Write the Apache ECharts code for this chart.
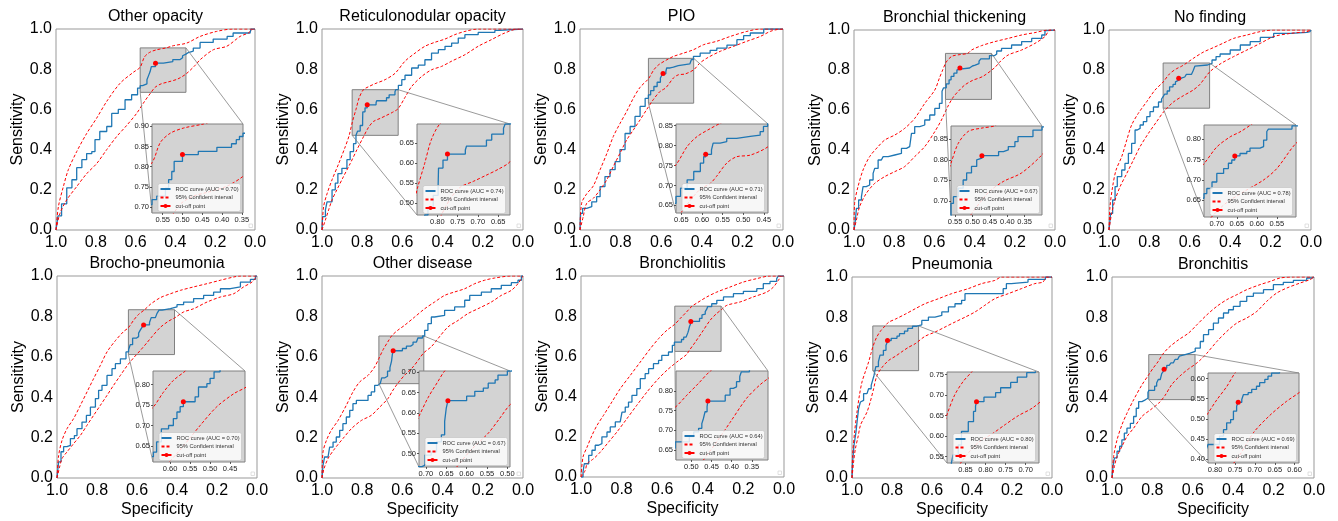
<!DOCTYPE html>
<html><head><meta charset="utf-8">
<script src="https://cdn.jsdelivr.net/npm/echarts@6/dist/echarts.min.js"></script>
<style>html,body{margin:0;padding:0;background:#fff}#c{width:1338px;height:521px}</style>
</head><body><div id="c"></div>
<script>
// ---------------- DATA ----------------
const titles = ['Other opacity','Reticulonodular opacity','PIO','Bronchial thickening','No finding',
  'Brocho-pneumonia','Other disease','Bronchiolitis','Pneumonia','Bronchitis'];
const aucs = ['0.70','0.74','0.71','0.67','0.78','0.70','0.67','0.64','0.80','0.69'];
const cutoffs = [[0.50,0.83],[0.775,0.623],[0.591,0.778],[0.473,0.81],[0.655,0.759],
  [0.567,0.758],[0.646,0.63],[0.459,0.774],[0.8225,0.684],[0.742,0.541]];
// zoom box in main plot (specificity range, sensitivity range)
const boxX = [[0.347,0.577],[0.621,0.85],[0.44,0.663],[0.316,0.545],[0.502,0.732],
  [0.4125,0.643],[0.4935,0.717],[0.31,0.538],[0.667,0.896],[0.589,0.818]];
const boxY = [[0.685,0.906],[0.471,0.698],[0.631,0.854],[0.653,0.883],[0.609,0.835],
  [0.611,0.833],[0.467,0.703],[0.625,0.85],[0.534,0.7565],[0.39,0.614]];
// inset axes ranges
const insetXRange = [[0.347,0.577],[0.621,0.85],[0.44,0.663],[0.30,0.562],[0.502,0.732],
  [0.4125,0.643],[0.4935,0.717],[0.31,0.538],[0.667,0.896],[0.589,0.818]];
const insetYRange = [[0.685,0.906],[0.471,0.698],[0.631,0.854],[0.666,0.882],[0.609,0.835],
  [0.611,0.833],[0.467,0.703],[0.625,0.85],[0.534,0.7565],[0.39,0.614]];
const insetXTicks = [[0.55,0.50,0.45,0.40,0.35],[0.80,0.75,0.70,0.65],[0.65,0.60,0.55,0.50,0.45],
  [0.55,0.50,0.45,0.40,0.35],[0.70,0.65,0.60,0.55],[0.60,0.55,0.50,0.45],[0.70,0.65,0.60,0.55,0.50],
  [0.50,0.45,0.40,0.35],[0.85,0.80,0.75,0.70],[0.80,0.75,0.70,0.65,0.60]];
const insetYTicks = [[0.70,0.75,0.80,0.85,0.90],[0.50,0.55,0.60,0.65],[0.65,0.70,0.75,0.80,0.85],
  [0.70,0.75,0.80,0.85],[0.65,0.70,0.75,0.80],[0.65,0.70,0.75,0.80],[0.50,0.55,0.60,0.65,0.70],
  [0.65,0.70,0.75,0.80],[0.55,0.60,0.65,0.70,0.75],[0.40,0.45,0.50,0.55,0.60]];
const mainTicks = [0,0.2,0.4,0.6,0.8,1.0];

const otherOpacityROC = [[1,0],[0.99,0.07],[0.972,0.13],[0.946,0.21],[0.92,0.25],[0.896,0.31],[0.87,0.35],[0.846,0.38],[0.82,0.39],[0.804,0.45],[0.78,0.49],[0.745,0.515],[0.72,0.58],[0.687,0.60],[0.653,0.648],[0.62,0.673],[0.59,0.706],[0.577,0.718],[0.565,0.727],[0.543,0.747],[0.535,0.768],[0.527,0.788],[0.521,0.813],[0.50,0.83],[0.46,0.838],[0.413,0.848],[0.376,0.857],[0.364,0.867],[0.356,0.875],[0.347,0.883],[0.335,0.89],[0.31,0.905],[0.276,0.933],[0.21,0.95],[0.14,0.963],[0.11,0.98],[0.025,0.985],[0.02,1.0],[0,1]];
const otherOpacityUpper = [[1,0],[0.988,0.116],[0.963,0.216],[0.938,0.30],[0.896,0.39],[0.846,0.48],[0.796,0.556],[0.745,0.64],[0.678,0.73],[0.611,0.785],[0.577,0.81],[0.556,0.86],[0.531,0.883],[0.497,0.896],[0.447,0.906],[0.41,0.917],[0.343,0.93],[0.276,0.963],[0.193,0.988],[0.109,1.0],[0,1]];
const otherOpacityLower = [[1,0],[0.98,0.083],[0.946,0.15],[0.896,0.216],[0.846,0.28],[0.796,0.33],[0.745,0.40],[0.695,0.465],[0.645,0.52],[0.595,0.58],[0.555,0.64],[0.522,0.685],[0.502,0.71],[0.472,0.727],[0.439,0.736],[0.389,0.751],[0.347,0.776],[0.30,0.82],[0.276,0.847],[0.209,0.897],[0.142,0.914],[0.075,0.963],[0.034,0.98],[0.008,1.0],[0,1]];

const reticuloROC = [[1,0],[0.997,0.067],[0.983,0.10],[0.975,0.14],[0.95,0.20],[0.934,0.233],[0.921,0.28],[0.901,0.307],[0.876,0.35],[0.86,0.39],[0.843,0.43],[0.831,0.471],[0.823,0.492],[0.81,0.52],[0.798,0.542],[0.797,0.588],[0.786,0.608],[0.775,0.623],[0.731,0.633],[0.728,0.643],[0.679,0.658],[0.666,0.6725],[0.637,0.6875],[0.633,0.698],[0.62,0.72],[0.603,0.748],[0.587,0.77],[0.554,0.806],[0.521,0.82],[0.488,0.847],[0.455,0.88],[0.421,0.897],[0.388,0.914],[0.355,0.93],[0.322,0.955],[0.289,0.972],[0.223,0.983],[0.14,0.993],[0.116,1.0],[0,1]];
const reticuloUpper = [[1,0],[0.992,0.116],[0.975,0.18],[0.95,0.25],[0.917,0.33],[0.884,0.415],[0.865,0.47],[0.849,0.5375],[0.831,0.60],[0.815,0.658],[0.794,0.698],[0.77,0.712],[0.736,0.728],[0.686,0.748],[0.636,0.78],[0.587,0.84],[0.537,0.88],[0.488,0.914],[0.438,0.934],[0.388,0.95],[0.339,0.972],[0.289,0.988],[0.223,1.0],[0,1]];
const reticuloLower = [[1,0],[0.983,0.05],[0.967,0.10],[0.95,0.15],[0.926,0.20],[0.893,0.266],[0.86,0.33],[0.826,0.40],[0.793,0.465],[0.769,0.51],[0.744,0.54],[0.711,0.555],[0.68,0.57],[0.65,0.585],[0.621,0.604],[0.587,0.66],[0.554,0.714],[0.504,0.764],[0.455,0.797],[0.405,0.814],[0.355,0.84],[0.289,0.872],[0.223,0.914],[0.157,0.947],[0.091,0.98],[0.025,1.0],[0,1]];

const pioROC = [[1,0],[0.997,0.083],[0.987,0.108],[0.967,0.116],[0.942,0.14],[0.918,0.166],[0.901,0.216],[0.877,0.266],[0.852,0.30],[0.827,0.34],[0.803,0.40],[0.778,0.48],[0.753,0.515],[0.729,0.565],[0.704,0.615],[0.679,0.655],[0.663,0.6725],[0.652,0.693],[0.636,0.714],[0.62,0.735],[0.604,0.756],[0.596,0.772],[0.591,0.778],[0.577,0.789],[0.573,0.806],[0.556,0.81],[0.54,0.818],[0.516,0.823],[0.483,0.826],[0.459,0.835],[0.451,0.848],[0.441,0.864],[0.408,0.88],[0.359,0.894],[0.326,0.905],[0.276,0.92],[0.227,0.947],[0.194,0.967],[0.161,0.98],[0.095,1.0],[0,1]];
const pioUpper = [[1,0],[0.992,0.133],[0.967,0.18],[0.934,0.22],[0.901,0.30],[0.868,0.38],[0.836,0.465],[0.803,0.53],[0.77,0.59],[0.737,0.656],[0.704,0.71],[0.663,0.752],[0.636,0.7975],[0.612,0.8225],[0.579,0.843],[0.559,0.854],[0.539,0.864],[0.49,0.88],[0.441,0.897],[0.391,0.922],[0.326,0.939],[0.26,0.963],[0.178,0.988],[0.112,1.0],[0,1]];
const pioLower = [[1,0],[0.984,0.067],[0.967,0.133],[0.934,0.158],[0.901,0.20],[0.868,0.25],[0.836,0.316],[0.803,0.382],[0.77,0.448],[0.737,0.498],[0.704,0.548],[0.671,0.60],[0.638,0.65],[0.605,0.69],[0.58,0.705],[0.565,0.7225],[0.54,0.756],[0.516,0.772],[0.483,0.776],[0.44,0.797],[0.41,0.83],[0.375,0.855],[0.309,0.889],[0.243,0.914],[0.178,0.939],[0.112,0.963],[0.063,0.988],[0.03,0.997],[0,1]];

const bronchialROC = [[1,0],[0.993,0.05],[0.988,0.108],[0.977,0.15],[0.963,0.167],[0.955,0.217],[0.939,0.225],[0.922,0.25],[0.905,0.283],[0.897,0.308],[0.88,0.35],[0.864,0.353],[0.855,0.367],[0.83,0.375],[0.797,0.383],[0.764,0.408],[0.739,0.417],[0.723,0.425],[0.714,0.483],[0.698,0.517],[0.673,0.525],[0.648,0.55],[0.623,0.575],[0.598,0.608],[0.575,0.633],[0.562,0.694],[0.555,0.7105],[0.541,0.731],[0.527,0.751],[0.517,0.768],[0.503,0.784],[0.488,0.80],[0.483,0.804],[0.473,0.81],[0.425,0.82],[0.411,0.824],[0.397,0.832],[0.378,0.844],[0.369,0.856],[0.326,0.872],[0.30,0.88],[0.29,0.895],[0.266,0.908],[0.216,0.925],[0.166,0.942],[0.116,0.958],[0.066,0.975],[0.05,0.997],[0.04,1.0],[0,1]];
const bronchialUpper = [[1,0],[0.997,0.133],[0.98,0.217],[0.955,0.30],[0.922,0.367],[0.88,0.417],[0.847,0.45],[0.797,0.475],[0.748,0.508],[0.698,0.558],[0.648,0.633],[0.598,0.70],[0.575,0.76],[0.562,0.792],[0.541,0.84],[0.512,0.869],[0.473,0.877],[0.435,0.883],[0.415,0.90],[0.365,0.922],[0.299,0.942],[0.233,0.958],[0.166,0.975],[0.10,0.987],[0.033,1.0],[0,1]];
const bronchialLower = [[1,0],[0.988,0.05],[0.972,0.117],[0.939,0.183],[0.897,0.233],[0.847,0.267],[0.797,0.292],[0.748,0.317],[0.698,0.367],[0.648,0.417],[0.598,0.492],[0.565,0.55],[0.532,0.62],[0.505,0.666],[0.475,0.70],[0.449,0.725],[0.41,0.748],[0.359,0.768],[0.30,0.812],[0.27,0.845],[0.233,0.875],[0.166,0.90],[0.10,0.933],[0.05,0.967],[0.025,1.0],[0,1]];

const noFindingROC = [[1,0],[0.992,0.083],[0.982,0.15],[0.97,0.217],[0.959,0.267],[0.937,0.30],[0.921,0.333],[0.904,0.383],[0.888,0.433],[0.871,0.50],[0.86,0.508],[0.846,0.525],[0.83,0.542],[0.813,0.567],[0.797,0.592],[0.78,0.615],[0.755,0.64],[0.74,0.655],[0.732,0.6665],[0.725,0.679],[0.712,0.695],[0.70,0.716],[0.683,0.728],[0.671,0.741],[0.6625,0.749],[0.655,0.759],[0.642,0.765],[0.625,0.77],[0.617,0.778],[0.592,0.782],[0.583,0.798],[0.575,0.819],[0.571,0.825],[0.512,0.833],[0.49,0.85],[0.47,0.867],[0.45,0.88],[0.40,0.90],[0.35,0.925],[0.301,0.942],[0.251,0.963],[0.185,0.983],[0.102,0.988],[0.02,0.992],[0.005,1.0],[0,1]];
const noFindingUpper = [[1,0],[0.995,0.117],[0.982,0.217],[0.965,0.30],[0.937,0.367],[0.912,0.45],[0.888,0.525],[0.855,0.583],[0.813,0.642],[0.772,0.70],[0.732,0.74],[0.70,0.781],[0.6665,0.806],[0.642,0.818],[0.617,0.834],[0.58,0.86],[0.532,0.89],[0.483,0.912],[0.433,0.935],[0.383,0.958],[0.317,0.975],[0.251,0.992],[0.185,1.0],[0,1]];
const noFindingLower = [[1,0],[0.987,0.083],[0.97,0.15],[0.945,0.217],[0.912,0.283],[0.879,0.35],[0.846,0.417],[0.805,0.483],[0.764,0.542],[0.73,0.59],[0.681,0.64],[0.631,0.672],[0.583,0.70],[0.55,0.728],[0.502,0.79],[0.45,0.83],[0.383,0.867],[0.317,0.90],[0.251,0.933],[0.185,0.967],[0.102,0.983],[0.02,0.992],[0,1]];

const bronchoPneuROC = [[1,0],[0.992,0.08],[0.98,0.13],[0.967,0.155],[0.95,0.162],[0.933,0.195],[0.913,0.21],[0.90,0.244],[0.875,0.277],[0.853,0.31],[0.833,0.351],[0.808,0.393],[0.792,0.434],[0.775,0.459],[0.75,0.508],[0.725,0.541],[0.708,0.566],[0.683,0.59],[0.655,0.624],[0.642,0.635],[0.634,0.66],[0.622,0.692],[0.604,0.70],[0.592,0.717],[0.583,0.733],[0.575,0.746],[0.567,0.758],[0.5375,0.77],[0.529,0.794],[0.508,0.802],[0.50,0.815],[0.49,0.831],[0.475,0.838],[0.433,0.847],[0.40,0.858],[0.367,0.871],[0.317,0.888],[0.267,0.904],[0.217,0.92],[0.183,0.937],[0.133,0.946],[0.083,0.97],[0.033,0.983],[0.008,1.0],[0,1]];
const bronchoPneuUpper = [[1,0],[0.992,0.11],[0.975,0.186],[0.95,0.244],[0.917,0.294],[0.883,0.36],[0.85,0.426],[0.817,0.492],[0.783,0.558],[0.75,0.624],[0.708,0.68],[0.667,0.725],[0.643,0.744],[0.617,0.781],[0.592,0.81],[0.562,0.833],[0.533,0.86],[0.483,0.893],[0.433,0.912],[0.383,0.929],[0.317,0.946],[0.25,0.962],[0.183,0.979],[0.117,0.995],[0.083,1.0],[0,1]];
const bronchoPneuLower = [[1,0],[0.987,0.054],[0.975,0.096],[0.95,0.129],[0.917,0.17],[0.883,0.211],[0.85,0.261],[0.817,0.31],[0.783,0.36],[0.75,0.409],[0.717,0.459],[0.683,0.508],[0.65,0.555],[0.617,0.595],[0.583,0.632],[0.55,0.67],[0.525,0.70],[0.483,0.746],[0.44,0.778],[0.4125,0.792],[0.367,0.822],[0.317,0.838],[0.25,0.871],[0.183,0.896],[0.117,0.912],[0.067,0.946],[0.025,0.97],[0.003,0.995],[0,1]];

const otherDiseaseROC = [[1,0],[0.995,0.063],[0.987,0.104],[0.97,0.112],[0.962,0.153],[0.945,0.178],[0.929,0.203],[0.912,0.236],[0.896,0.269],[0.879,0.302],[0.862,0.335],[0.846,0.368],[0.829,0.384],[0.771,0.409],[0.755,0.426],[0.738,0.459],[0.722,0.468],[0.71,0.471],[0.703,0.496],[0.687,0.504],[0.674,0.529],[0.662,0.546],[0.654,0.579],[0.65,0.612],[0.646,0.63],[0.60,0.641],[0.58,0.653],[0.559,0.661],[0.547,0.673],[0.53,0.681],[0.523,0.693],[0.50,0.703],[0.489,0.731],[0.473,0.764],[0.456,0.797],[0.44,0.805],[0.39,0.83],[0.34,0.847],[0.29,0.88],[0.265,0.904],[0.207,0.92],[0.158,0.937],[0.108,0.954],[0.058,0.967],[0.025,0.979],[0.008,1.0],[0,1]];
const otherDiseaseUpper = [[1,0],[0.995,0.129],[0.978,0.186],[0.954,0.236],[0.92,0.285],[0.879,0.36],[0.846,0.426],[0.813,0.475],[0.771,0.508],[0.738,0.55],[0.717,0.592],[0.695,0.637],[0.67,0.678],[0.654,0.703],[0.625,0.73],[0.589,0.756],[0.539,0.797],[0.489,0.838],[0.44,0.871],[0.39,0.904],[0.34,0.921],[0.29,0.937],[0.24,0.962],[0.191,0.979],[0.141,0.99],[0.058,1.0],[0,1]];
const otherDiseaseLower = [[1,0],[0.99,0.046],[0.97,0.096],[0.937,0.145],[0.896,0.195],[0.854,0.244],[0.804,0.285],[0.755,0.31],[0.713,0.351],[0.672,0.393],[0.65,0.43],[0.622,0.47],[0.588,0.51],[0.547,0.55],[0.52,0.585],[0.4935,0.62],[0.456,0.65],[0.423,0.69],[0.373,0.748],[0.323,0.78],[0.274,0.814],[0.224,0.838],[0.158,0.871],[0.108,0.904],[0.058,0.929],[0.025,0.962],[0,1]];

const bronchiolitisROC = [[1,0],[0.99,0.025],[0.984,0.066],[0.962,0.108],[0.946,0.133],[0.93,0.158],[0.913,0.166],[0.897,0.20],[0.872,0.224],[0.856,0.249],[0.831,0.274],[0.807,0.282],[0.798,0.323],[0.782,0.348],[0.766,0.373],[0.749,0.406],[0.725,0.44],[0.708,0.489],[0.684,0.514],[0.667,0.539],[0.643,0.564],[0.618,0.58],[0.602,0.605],[0.569,0.622],[0.55,0.655],[0.54,0.671],[0.505,0.684],[0.494,0.696],[0.482,0.705],[0.474,0.717],[0.47,0.73],[0.466,0.747],[0.461,0.76],[0.459,0.774],[0.416,0.789],[0.404,0.806],[0.396,0.81],[0.388,0.823],[0.38,0.836],[0.376,0.848],[0.356,0.862],[0.331,0.879],[0.298,0.896],[0.249,0.912],[0.20,0.924],[0.134,0.937],[0.102,0.962],[0.069,0.973],[0.036,0.987],[0.028,1.0],[0,1]];
const bronchiolitisUpper = [[1,0],[0.99,0.10],[0.97,0.149],[0.946,0.207],[0.921,0.257],[0.889,0.307],[0.848,0.373],[0.807,0.439],[0.757,0.506],[0.708,0.572],[0.659,0.638],[0.618,0.688],[0.577,0.73],[0.538,0.76],[0.511,0.789],[0.482,0.819],[0.453,0.85],[0.43,0.865],[0.38,0.896],[0.331,0.92],[0.266,0.945],[0.20,0.97],[0.134,0.987],[0.069,1.0],[0,1]];
const bronchiolitisLower = [[1,0],[0.979,0.033],[0.97,0.066],[0.938,0.091],[0.905,0.124],[0.864,0.174],[0.823,0.224],[0.774,0.29],[0.725,0.357],[0.675,0.423],[0.626,0.481],[0.577,0.531],[0.528,0.572],[0.479,0.61],[0.47,0.625],[0.437,0.671],[0.404,0.72],[0.363,0.781],[0.33,0.815],[0.31,0.831],[0.282,0.854],[0.216,0.871],[0.151,0.896],[0.085,0.92],[0.052,0.945],[0.028,0.978],[0.011,1.0],[0,1]];

const pneumoniaROC = [[1,0],[0.997,0.08],[0.99,0.163],[0.98,0.229],[0.973,0.295],[0.967,0.345],[0.958,0.378],[0.95,0.386],[0.942,0.42],[0.925,0.428],[0.917,0.444],[0.904,0.461],[0.897,0.486],[0.89,0.51],[0.885,0.534],[0.881,0.554],[0.868,0.578],[0.86,0.611],[0.843,0.635],[0.83,0.66],[0.825,0.673],[0.8225,0.684],[0.804,0.695],[0.775,0.706],[0.7625,0.718],[0.7375,0.731],[0.721,0.744],[0.6975,0.755],[0.676,0.762],[0.651,0.784],[0.618,0.80],[0.585,0.809],[0.551,0.826],[0.518,0.851],[0.485,0.867],[0.452,0.884],[0.435,0.917],[0.244,0.942],[0.228,0.967],[0.203,0.975],[0.12,0.988],[0.033,1.0],[0,1]];
const pneumoniaUpper = [[1,0],[0.997,0.113],[0.987,0.229],[0.975,0.328],[0.963,0.411],[0.95,0.478],[0.934,0.527],[0.917,0.577],[0.905,0.62],[0.896,0.652],[0.877,0.70],[0.856,0.733],[0.835,0.756],[0.817,0.775],[0.784,0.79],[0.734,0.815],[0.684,0.842],[0.635,0.867],[0.568,0.892],[0.502,0.917],[0.419,0.942],[0.352,0.967],[0.286,0.983],[0.252,1.0],[0,1]];
const pneumoniaLower = [[1,0],[0.992,0.08],[0.983,0.146],[0.97,0.204],[0.958,0.262],[0.942,0.295],[0.925,0.328],[0.909,0.378],[0.892,0.444],[0.875,0.511],[0.85,0.55],[0.817,0.585],[0.784,0.605],[0.751,0.628],[0.718,0.65],[0.684,0.668],[0.635,0.705],[0.585,0.726],[0.535,0.751],[0.485,0.776],[0.435,0.80],[0.385,0.826],[0.336,0.859],[0.286,0.892],[0.219,0.917],[0.153,0.942],[0.086,0.967],[0.045,0.975],[0.028,1.0],[0,1]];

const bronchitisROC = [[1,0],[0.995,0.058],[0.988,0.10],[0.975,0.133],[0.962,0.158],[0.951,0.19],[0.939,0.223],[0.926,0.248],[0.909,0.272],[0.893,0.306],[0.88,0.347],[0.868,0.38],[0.852,0.389],[0.835,0.397],[0.822,0.425],[0.818,0.436],[0.789,0.457],[0.779,0.473],[0.771,0.49],[0.761,0.498],[0.754,0.519],[0.746,0.531],[0.742,0.541],[0.733,0.548],[0.729,0.56],[0.717,0.565],[0.708,0.573],[0.696,0.581],[0.688,0.59],[0.675,0.598],[0.667,0.606],[0.658,0.614],[0.638,0.621],[0.613,0.63],[0.588,0.646],[0.563,0.679],[0.547,0.713],[0.522,0.738],[0.498,0.771],[0.473,0.796],[0.448,0.821],[0.423,0.837],[0.399,0.854],[0.366,0.879],[0.333,0.904],[0.30,0.92],[0.25,0.937],[0.201,0.962],[0.152,0.973],[0.102,0.983],[0.036,0.995],[0.01,1.0],[0,1]];
const bronchitisUpper = [[1,0],[0.992,0.107],[0.975,0.19],[0.951,0.264],[0.926,0.322],[0.893,0.389],[0.852,0.463],[0.818,0.514],[0.796,0.547],[0.771,0.58],[0.75,0.614],[0.72,0.648],[0.67,0.688],[0.621,0.721],[0.58,0.762],[0.53,0.812],[0.481,0.854],[0.432,0.887],[0.382,0.912],[0.333,0.937],[0.267,0.962],[0.217,0.978],[0.168,0.995],[0.102,1.0],[0,1]];
const bronchitisLower = [[1,0],[0.988,0.058],[0.975,0.107],[0.951,0.157],[0.926,0.206],[0.893,0.248],[0.852,0.306],[0.81,0.339],[0.769,0.372],[0.738,0.41],[0.704,0.465],[0.663,0.508],[0.621,0.543],[0.589,0.565],[0.56,0.59],[0.53,0.621],[0.481,0.679],[0.432,0.729],[0.382,0.771],[0.333,0.796],[0.283,0.829],[0.234,0.879],[0.185,0.92],[0.135,0.945],[0.069,0.97],[0.02,0.987],[0,1]];

const rocs = [otherOpacityROC,reticuloROC,pioROC,bronchialROC,noFindingROC,bronchoPneuROC,otherDiseaseROC,bronchiolitisROC,pneumoniaROC,bronchitisROC];
const uppers = [otherOpacityUpper,reticuloUpper,pioUpper,bronchialUpper,noFindingUpper,bronchoPneuUpper,otherDiseaseUpper,bronchiolitisUpper,pneumoniaUpper,bronchitisUpper];
const lowers = [otherOpacityLower,reticuloLower,pioLower,bronchialLower,noFindingLower,bronchoPneuLower,otherDiseaseLower,bronchiolitisLower,pneumoniaLower,bronchitisLower];

// ---------------- LAYOUT (pixels) ----------------
const mainRects = [[56,29,199,201],[322,29,201,201],[580,29,203,201],[854,30,201,200],[1109,30,202,200],
  [57,276,200,202],[322,276,201,202],[581,276,203,201],[852,277,200,201],[1112,277,202,201]];
const insetRects = [[152,124,91,89],[417,124,93,91],[676,124,92,89],[951,126,91,89],[1204,125,92,92],
  [153,371,92,91],[419,371,91,96],[676,371,92,89],[947,372,92,91],[1208,373,91,90]];

const W = 1338, H = 521;
const FONT = "'Liberation Sans', Arial, Helvetica, sans-serif";
const BLUE = '#1f77b4', RED = '#ff0000';
const CI = '95% Confident interval', CUT = 'cut-off point';

const chart = echarts.init(document.getElementById('c'), null, {renderer: 'canvas', width: W, height: H});
const grids = [], xAxes = [], yAxes = [], series = [], legends = [];

function curveSeries(i, gi, z) {
  const rocName = 'ROC curve (AUC = ' + aucs[i] + ')';
  series.push({type: 'line', name: rocName, xAxisIndex: gi, yAxisIndex: gi, data: rocs[i], step: 'end',
    symbol: 'none', lineStyle: {color: BLUE, width: 1.3}, itemStyle: {color: BLUE}, z: z, silent: true, clip: true});
  [uppers[i], lowers[i]].forEach(d => series.push({type: 'line', name: CI, xAxisIndex: gi, yAxisIndex: gi, data: d,
    smooth: 0.3, symbol: 'none', lineStyle: {color: RED, width: 1, type: [3, 2]}, itemStyle: {color: RED}, z: z, silent: true, clip: true}));
  series.push({type: 'line', name: CUT, xAxisIndex: gi, yAxisIndex: gi, data: [cutoffs[i]], symbol: 'circle', symbolSize: 5,
    itemStyle: {color: RED}, lineStyle: {color: RED, width: 1}, z: z + 1, silent: true, clip: true});
  return rocName;
}

for (let i = 0; i < 10; i++) {
  const [ml, mt, mw, mh] = mainRects[i];
  const [il, it, iw, ih] = insetRects[i];
  const gm = 2 * i, gs = 2 * i + 1;
  const row2 = i >= 5;
  grids.push({left: ml, top: mt, width: mw, height: mh, show: true, backgroundColor: '#ffffff',
    borderColor: '#999999', borderWidth: 1, z: 1, containLabel: false, outerBoundsMode: 'none'});
  grids.push({left: il, top: it, width: iw, height: ih, show: true, backgroundColor: '#d3d3d3',
    borderColor: '#808080', borderWidth: 1, z: 10, containLabel: false, outerBoundsMode: 'none'});

  xAxes.push({type: 'value', gridIndex: gm, min: 0, max: 1, inverse: true,
    axisLine: {show: false}, axisTick: {show: false}, splitLine: {show: false},
    axisLabel: {customValues: mainTicks, fontSize: 16, color: '#000', margin: 5, fontFamily: FONT, formatter: v => v.toFixed(1)},
    name: row2 ? 'Specificity' : '', nameLocation: 'middle', nameGap: 24,
    nameTextStyle: {fontSize: 16, color: '#000', fontFamily: FONT}});
  yAxes.push({type: 'value', gridIndex: gm, min: 0, max: 1,
    axisLine: {show: false}, axisTick: {show: false}, splitLine: {show: false},
    axisLabel: {customValues: mainTicks, fontSize: 16, color: '#000', margin: 4, fontFamily: FONT, formatter: v => v.toFixed(1)},
    name: 'Sensitivity', nameLocation: 'middle', nameGap: 30,
    nameTextStyle: {fontSize: 16, color: '#000', fontFamily: FONT}});

  xAxes.push({type: 'value', gridIndex: gs, min: insetXRange[i][0], max: insetXRange[i][1], inverse: true, z: 12,
    axisLine: {show: false}, splitLine: {show: false},
    axisTick: {show: true, length: 2, customValues: insetXTicks[i], lineStyle: {color: '#333', width: 0.8}},
    axisLabel: {customValues: insetXTicks[i], fontSize: 7.5, color: '#222', margin: 3, fontFamily: FONT, formatter: v => v.toFixed(2)}});
  yAxes.push({type: 'value', gridIndex: gs, min: insetYRange[i][0], max: insetYRange[i][1], z: 12,
    axisLine: {show: false}, splitLine: {show: false},
    axisTick: {show: true, length: 2, customValues: insetYTicks[i], lineStyle: {color: '#333', width: 0.8}},
    axisLabel: {customValues: insetYTicks[i], fontSize: 7.5, color: '#222', margin: 3, fontFamily: FONT, formatter: v => v.toFixed(2)}});

  // zoom box in main plot
  series.push({type: 'line', xAxisIndex: gm, yAxisIndex: gm, data: [[boxX[i][0], boxY[i][0]]], symbol: 'none',
    lineStyle: {width: 0}, z: 2, silent: true,
    markArea: {silent: true, itemStyle: {color: '#d3d3d3', borderColor: '#808080', borderWidth: 1},
      data: [[{coord: [boxX[i][1], boxY[i][1]]}, {coord: [boxX[i][0], boxY[i][0]]}]]}});
  const rocName = curveSeries(i, gm, 3);
  curveSeries(i, gs, 15);

  legends.push({left: il + 6, bottom: H - (it + ih) + 1.5, orient: 'vertical', itemWidth: 10, itemHeight: 5, itemGap: 2.5,
    padding: [2.5, 2, 2.5, 1.5], backgroundColor: 'rgba(255,255,255,0.82)', borderColor: '#c8c8c8', borderWidth: 0.8, borderRadius: 2,
    textStyle: {fontSize: 5.7, color: '#333', fontFamily: FONT}, selectedMode: false, z: 20,
    data: [{name: rocName, itemStyle: {opacity: 0}}, {name: CI, itemStyle: {opacity: 0}}, {name: CUT}]});
}

chart.setOption({animation: false, grid: grids, xAxis: xAxes, yAxis: yAxes, series: series, legend: legends});

// decorations computed from the library's scales
const gfx = [];
for (let i = 0; i < 10; i++) {
  const [ml, mt, mw, mh] = mainRects[i];
  const gm = 2 * i, gs = 2 * i + 1;
  const rTR = chart.convertToPixel({gridIndex: gm}, [boxX[i][0], boxY[i][1]]);
  const rBL = chart.convertToPixel({gridIndex: gm}, [boxX[i][1], boxY[i][0]]);
  const iTR = chart.convertToPixel({gridIndex: gs}, [insetXRange[i][0], insetYRange[i][1]]);
  const iBL = chart.convertToPixel({gridIndex: gs}, [insetXRange[i][1], insetYRange[i][0]]);
  [[rTR, iTR], [rBL, iBL]].forEach(([a, b]) => gfx.push({type: 'line', z: 5, silent: true,
    shape: {x1: a[0], y1: a[1], x2: b[0], y2: b[1]}, style: {stroke: '#808080', lineWidth: 0.8}}));
  gfx.push({type: 'text', z: 30, silent: true, x: ml + mw / 2, y: mt - 12,
    style: {text: titles[i], fontSize: 16, fontFamily: FONT, fill: '#000', align: 'center', verticalAlign: 'middle'}});
  gfx.push({type: 'rect', z: 5, silent: true, shape: {x: ml + mw - 6, y: mt + mh - 6, width: 3.5, height: 3.5},
    style: {fill: '#fff', stroke: '#d8d8d8', lineWidth: 0.8}});
}
chart.setOption({graphic: gfx});
</script>
</body></html>
